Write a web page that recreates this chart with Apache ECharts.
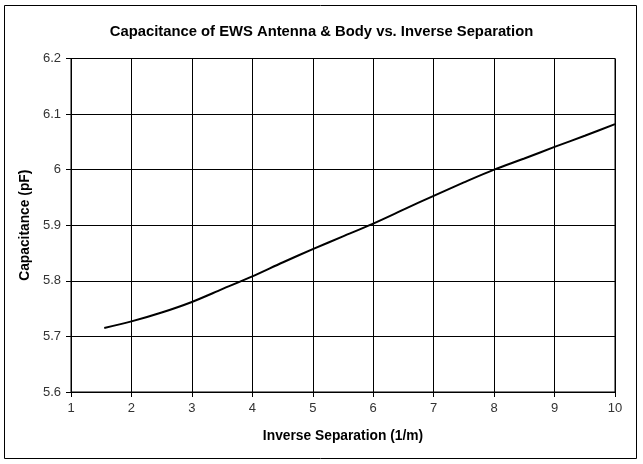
<!DOCTYPE html>
<html>
<head>
<meta charset="utf-8">
<script src="https://cdn.jsdelivr.net/npm/echarts@6/dist/echarts.min.js"></script>
<style>
html,body{margin:0;padding:0;background:#fff;}
#c{width:643px;height:464px;}
</style>
</head>
<body>
<div id="c"></div>
<script>
var titleText = 'Capacitance of EWS Antenna & Body vs. Inverse Separation';
var xName = 'Inverse Separation (1/m)';
var yName = 'Capacitance (pF)';
var xValues = [1.55, 2, 2.5, 3, 3.5, 4, 4.5, 5, 5.5, 6, 6.5, 7, 7.5, 8, 8.5, 9, 9.5, 10];
var yValues = [5.715, 5.727, 5.743, 5.762, 5.785, 5.808, 5.833, 5.857, 5.880, 5.903, 5.928, 5.953, 5.977, 6.000, 6.020, 6.041, 6.061, 6.082];

var data = xValues.map(function(x, i){ return [x, yValues[i]]; });
var font = 'Liberation Sans, Arial, sans-serif';
var chart = echarts.init(document.getElementById('c'), null, {renderer:'canvas'});
chart.setOption({
  animation: false,
  backgroundColor: '#fff',
  title: {
    text: titleText, left: 'center', top: 19,
    textStyle: {fontFamily: font, fontSize: 14.8, fontWeight: 'bold', color: '#000'}
  },
  graphic: [{
    type: 'rect', shape: {x: 4.5, y: 5.5, width: 632, height: 453},
    style: {fill: 'none', stroke: '#000', lineWidth: 1}, silent: true
  }],
  grid: {left: 71, right: 28, top: 58.5, bottom: 72, containLabel: false,
         show: true, borderColor: '#000', borderWidth: 1, backgroundColor: '#fff'},
  xAxis: {
    type: 'value', min: 1, max: 10, interval: 1,
    name: xName, nameLocation: 'middle', nameGap: 37,
    nameTextStyle: {fontFamily: font, fontSize: 13.8, fontWeight: 'bold', color: '#000'},
    axisLine: {show: true, lineStyle: {color: '#000', width: 1}},
    axisTick: {show: true, length: 5, lineStyle: {color: '#000'}},
    axisLabel: {fontFamily: font, fontSize: 13, color: '#333', margin: 10},
    splitLine: {show: true, lineStyle: {color: '#000', width: 1}}
  },
  yAxis: {
    type: 'value', min: 5.6, max: 6.2, interval: 0.1,
    name: yName, nameLocation: 'middle', nameGap: 34,
    nameTextStyle: {fontFamily: font, fontSize: 13.8, fontWeight: 'bold', color: '#000'},
    axisLine: {show: true, lineStyle: {color: '#000', width: 1}},
    axisTick: {show: true, length: 5, lineStyle: {color: '#000'}},
    axisLabel: {fontFamily: font, fontSize: 13, color: '#333', margin: 10,
      formatter: function(v){ return String(Math.round(v*10)/10); }},
    splitLine: {show: true, lineStyle: {color: '#000', width: 1}}
  },
  series: [{
    type: 'line', data: data, smooth: 0.3, showSymbol: false, symbol: 'none',
    lineStyle: {color: '#000', width: 2}
  }]
});
</script>
</body>
</html>
